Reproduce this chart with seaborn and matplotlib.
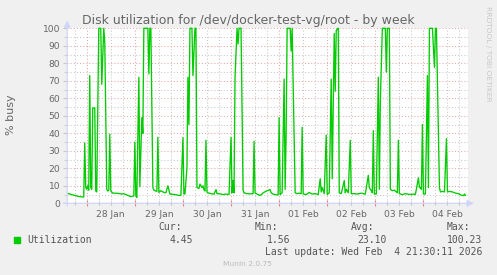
import matplotlib
matplotlib.use("Agg")
import matplotlib.pyplot as plt
import matplotlib.dates as mdates
from matplotlib.ticker import MultipleLocator, NullFormatter
from matplotlib.patches import Rectangle
import pandas as pd
import seaborn as sns

# ---------------- data (hours since 2026-01-27 00:00, % busy) ----------------
hours = [
    14.5, 15.5, 17, 19, 20.5, 22.5, 23, 23.5, 24, 24.5, 25, 25.5, 26, 26.5, 27, 28,
    28.5, 29, 30, 31, 31.5, 32.5, 33, 34, 34.5, 35, 35.5, 36, 37, 39.5, 41.5, 42.5,
    44.5, 46, 47.5, 48, 48.5, 49, 50, 50.5, 51.5, 52, 52.5, 54.5, 55, 55.5, 56,
    57, 57.5, 59, 59.5, 60, 61, 62.5, 63.5, 64.5, 65.5, 68, 70,
    71, 72, 72.5, 73, 74, 74.5, 75, 75.5, 76.5, 77, 78, 78.5,
    79, 80, 80.5, 81.5, 82, 82.5, 83, 83.5, 84, 84.5, 86, 87.5, 88.5, 89, 90.5, 92, 93.5, 95,
    96, 96.5, 97, 97.5, 98, 99, 99.5, 100, 101, 102,
    102.5, 104, 105.5, 107, 107.5, 108, 109.5, 110.5, 111.5, 112, 114, 115.5, 116, 117, 119, 119.5,
    120, 120.5, 121.5, 122.5, 123, 123.5, 124, 125.5, 126, 126.5, 128, 129,
    130, 131, 131.5, 132, 133.5, 135, 136.5, 138, 139.5, 140.5, 141, 141.5, 142.5, 143.5, 144, 145,
    146, 146.5, 147.5, 148, 148.5, 149, 149.5, 150, 151, 152.5, 153, 153.5, 154.5, 155.5, 156, 157.5,
    159, 161, 163, 164.5, 165, 166, 166.5, 167, 167.5, 168.5, 169.5, 170, 170.5,
    171.5, 173, 173.5, 174, 175, 175.5, 176.5, 177.5, 179, 179.5, 180, 181.5, 183, 184.5, 186, 187,
    188, 189.5, 190, 190.5, 191, 191.5, 192, 193, 194, 194.5, 195, 196.5, 197.5, 198, 198.5,
    200, 200.5, 201.5, 202.5, 203.5, 204, 205, 206.5, 208, 209.5, 211, 212, 212.5, 213,
]
utilization = [
    5.7, 5.3, 4.8, 4.2, 3.8, 3.6, 34.5, 9, 8, 10, 7.5, 73, 9, 8, 54.5, 54.5,
    7, 6.5, 100, 100, 68, 100, 92, 8, 7, 7.5, 39.5, 7, 5.8, 5.7, 5.3, 5.5,
    4.5, 3.8, 4.2, 35, 4.5, 3.4, 72, 9.5, 49, 40, 100, 100, 74, 100, 100,
    9, 7.5, 6.8, 37.7, 6.2, 7.2, 6.2, 6, 10, 5.3, 5, 4.5,
    4.5, 37.5, 5.3, 5.3, 20, 72, 45, 100, 100, 73, 100, 100,
    9, 8.5, 11, 9, 10, 7.8, 7, 36, 6.5, 6, 5.5, 5.2, 7.8, 5.5, 5.4, 5, 5.3, 5.0,
    37.7, 6, 13, 6, 72, 100, 91, 100, 100, 7.6,
    6, 5.5, 5.4, 5.5, 35.4, 5.8, 5, 4.5, 5.3, 6, 7.2, 7.8, 6, 5.2, 4.8, 4.8,
    49, 5, 6, 71, 8, 40, 100, 100, 87, 100, 6, 5.5,
    5.8, 5.5, 43.4, 5.3, 5.0, 6.2, 5.3, 5.5, 5.0, 14, 6.5, 9, 5.5, 39, 5, 6,
    71, 14, 97, 64, 98.7, 99.6, 100, 6, 5.5, 13, 6, 8, 6, 36, 5.5, 5.5,
    5.3, 5.8, 5.2, 16, 9, 7.2, 6, 41.5, 5.3, 5.3, 72, 8, 58,
    100, 100, 75, 100, 100, 8, 7.2, 7.5, 6, 36, 5.5, 5.0, 5.5, 5.2, 5.0, 5.3,
    5.0, 14.5, 9, 9, 8, 45, 5.3, 5.3, 73, 9, 100, 100, 77.7, 100, 100,
    9, 6.5, 6.8, 6.5, 37, 6.5, 6.8, 6.5, 5.8, 5.5, 4.6, 4.4, 5.3, 4.45,
]
assert len(hours) == len(utilization)

title = "Disk utilization for /dev/docker-test-vg/root - by week"
series_name = "Utilization"
stat_labels = ["Cur:", "Min:", "Avg:", "Max:"]
stat_values = ["4.45", "1.56", "23.10", "100.23"]
last_update = "Last update: Wed Feb  4 21:30:11 2026"
y_label = "% busy"

# ---------------- style ----------------
sns.set_style("white")
plt.rcParams["font.family"] = ["DejaVu Sans"]

W, H = 497, 275
FONT = "#666666"
fig = plt.figure(figsize=(W / 100, H / 100), dpi=100, facecolor="#F0F0F0")


def fx(px):
    return px / W


def fy(py):
    return 1 - py / H


L, R, T, B = 67.2, 468.0, 28.3, 203.3
ax = fig.add_axes([fx(L), fy(B), (R - L) / W, (B - T) / H])
ax.set_facecolor("white")

base = pd.Timestamp("2026-01-27 00:00")
df = pd.DataFrame({"time": base + pd.to_timedelta(hours, unit="h"),
                   "util": utilization})
sns.lineplot(data=df, x="time", y="util", ax=ax, color="#00CC00",
             linewidth=0.95, estimator=None, sort=False, legend=False)
for ln in ax.lines:
    ln.set_clip_on(False)
    ln.set_zorder(5)

ax.set_xlim(base + pd.Timedelta(hours=14.25), base + pd.Timedelta(hours=214.25))
ax.set_ylim(0, 100)
ax.set_xlabel("")
ax.set_ylabel("")

# grid
ax.xaxis.set_major_locator(mdates.DayLocator())
ax.xaxis.set_minor_locator(mdates.HourLocator(byhour=[6, 12, 18]))
ax.xaxis.set_major_formatter(NullFormatter())
ax.xaxis.set_minor_formatter(NullFormatter())
ax.yaxis.set_major_locator(MultipleLocator(10))
ax.yaxis.set_minor_locator(MultipleLocator(5))
dots = (0, (1, 2))
ax.grid(which="major", color="#E8A8A8", linestyle=dots, linewidth=0.75)
ax.grid(which="minor", color="#C8C8C8", linestyle=dots, linewidth=0.75)
ax.set_axisbelow(True)
for s in ax.spines.values():
    s.set_visible(False)

ax.tick_params(axis="x", which="major", direction="inout", length=4, width=0.8,
               color="#E08888", bottom=True, labelbottom=False)
ax.tick_params(axis="x", which="minor", direction="inout", length=3, width=0.8,
               color="#C0C0C0", bottom=True, labelbottom=False)
ax.tick_params(axis="y", which="major", direction="out", length=3, width=0.8,
               color="#C8C8C8", left=True, labelsize=6.6, labelcolor=FONT, pad=2)
ax.tick_params(axis="y", which="minor", direction="out", length=2, width=0.8,
               color="#D0D0D0", left=True)

# day labels at noon
sec = ax.secondary_xaxis("bottom")
sec.xaxis.set_major_locator(mdates.HourLocator(byhour=12))
sec.xaxis.set_major_formatter(mdates.DateFormatter("%d %b"))
sec.tick_params(length=0, pad=4.5, labelsize=6.6, labelcolor=FONT)
sec.spines["bottom"].set_visible(False)

# axes with arrows
akw = dict(arrowstyle="-|>,head_length=0.5,head_width=0.25", color="#CFD6F8",
           lw=0.9, mutation_scale=8, shrinkA=0, shrinkB=0)
ax.annotate("", xy=(0, 1 + 8 / (B - T)), xytext=(0, -3 / (B - T)),
            xycoords="axes fraction", arrowprops=akw, zorder=6)
ax.annotate("", xy=(1 + 6 / (R - L), 0), xytext=(-4 / (R - L), 0),
            xycoords="axes fraction", arrowprops=akw, zorder=6)

# texts
fig.text(fx(248), fy(24), title, ha="center", va="baseline", fontsize=9, color=FONT)
fig.text(fx(11), fy(115), y_label, ha="center", va="center", rotation=90,
         fontsize=8, color=FONT)
fig.text(fx(488), fy(53.5), "RRDTOOL / TOBI OETIKER", ha="center", va="center",
         rotation=270, fontsize=5.4, color="#C8C8C8")

mono = dict(family="DejaVu Sans Mono", fontsize=7, color="#555555", va="baseline")
head_right = [182, 278, 374, 470]
val_right = [193, 290, 387, 482]
for lab, xr in zip(stat_labels, head_right):
    fig.text(fx(xr), fy(230.5), lab, ha="right", **mono)
fig.patches.append(Rectangle((fx(14), fy(242.7)), 6 / W, 6 / H,
                             transform=fig.transFigure, color="#00CC00"))
fig.text(fx(27), fy(243), series_name, ha="left", **mono)
for v, xr in zip(stat_values, val_right):
    fig.text(fx(xr), fy(243), v, ha="right", **mono)
fig.text(fx(482), fy(255), last_update, ha="right", **mono)
fig.text(fx(247.5), fy(266.5), "Munin 2.0.75", ha="center", va="baseline",
         fontsize=5.4, color="#BBBBBB")

fig.savefig("out.png", dpi=100, facecolor=fig.get_facecolor())
